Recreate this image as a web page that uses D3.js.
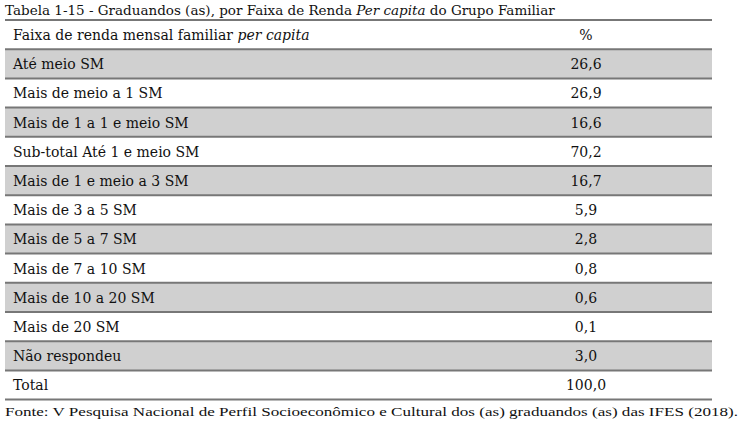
<!DOCTYPE html>
<html><head><meta charset="utf-8">
<script src="https://cdn.jsdelivr.net/npm/d3@7"></script>
<style>body{margin:0;background:#fff}</style>
</head><body><div id="chart"></div>
<script>
//data
var categories = ['Até meio SM','Mais de meio a 1 SM','Mais de 1 a 1 e meio SM','Sub-total Até 1 e meio SM',
    'Mais de 1 e meio a 3 SM','Mais de 3 a 5 SM','Mais de 5 a 7 SM','Mais de 7 a 10 SM',
    'Mais de 10 a 20 SM','Mais de 20 SM','Não respondeu','Total'];
var values = [26.6, 26.9, 16.6, 70.2, 16.7, 5.9, 2.8, 0.8, 0.6, 0.1, 3.0, 100.0];
var shaded = [true,false,true,false,true,false,true,false,true,false,true,false];

var W = 748, H = 430, tblLeft = 5, tblRight = 712, tblTop = 20, rowH = 29.2;
var svg = d3.select('#chart').append('svg').attr('width', W).attr('height', H)
    .style('font-family', '"DejaVu Serif", serif');

var y = d3.scaleBand().domain(d3.range(categories.length + 1))
    .range([tblTop, tblTop + rowH * (categories.length + 1)]);
var fmt = function(v) { return v.toFixed(1).replace('.', ','); };

var title = svg.append('text').attr('x', tblLeft).attr('y', 15).attr('font-size', 13.5).attr('fill', '#111');
title.append('tspan').text('Tabela 1-15 - Graduandos (as), por Faixa de Renda ');
title.append('tspan').attr('font-style', 'italic').text('Per capita');
title.append('tspan').text(' do Grupo Familiar');

//row backgrounds
svg.selectAll('.bg').data(categories).enter().append('rect')
    .attr('x', tblLeft).attr('width', tblRight - tblLeft)
    .attr('y', function(d, i) { return y(i + 1); }).attr('height', rowH)
    .attr('fill', function(d, i) { return shaded[i] ? '#d0d0d0' : '#fff'; });

//lines
svg.selectAll('.ln').data(d3.range(categories.length + 2)).enter().append('line')
    .attr('x1', tblLeft).attr('x2', tblRight)
    .attr('y1', function(i) { return tblTop + rowH * i; }).attr('y2', function(i) { return tblTop + rowH * i; })
    .attr('stroke', '#777').attr('stroke-width', 2);

var head = svg.append('text').attr('x', 13).attr('y', y(0) + 20).attr('font-size', 14).attr('fill', '#111');
head.append('tspan').text('Faixa de renda mensal familiar ');
head.append('tspan').attr('font-style', 'italic').text('per capita');
svg.append('text').attr('x', 586).attr('y', y(0) + 20).attr('text-anchor', 'middle')
    .attr('font-size', 14).attr('fill', '#111').text('%');

svg.selectAll('.lab').data(categories).enter().append('text')
    .attr('x', 13).attr('y', function(d, i) { return y(i + 1) + 20; })
    .attr('font-size', 14).attr('fill', '#111').text(function(d) { return d; });
svg.selectAll('.val').data(values).enter().append('text')
    .attr('x', 586).attr('y', function(d, i) { return y(i + 1) + 20; }).attr('text-anchor', 'middle')
    .attr('font-size', 14).attr('fill', '#111').text(fmt);

svg.append('text').attr('x', tblLeft).attr('y', 416).attr('font-size', 13.5)
    .attr('textLength', 733).attr('lengthAdjust', 'spacingAndGlyphs')
    .style('font-family', '"Liberation Serif", serif').attr('fill', '#111')
    .text('Fonte: V Pesquisa Nacional de Perfil Socioeconômico e Cultural dos (as) graduandos (as) das IFES (2018).');
</script></body></html>
